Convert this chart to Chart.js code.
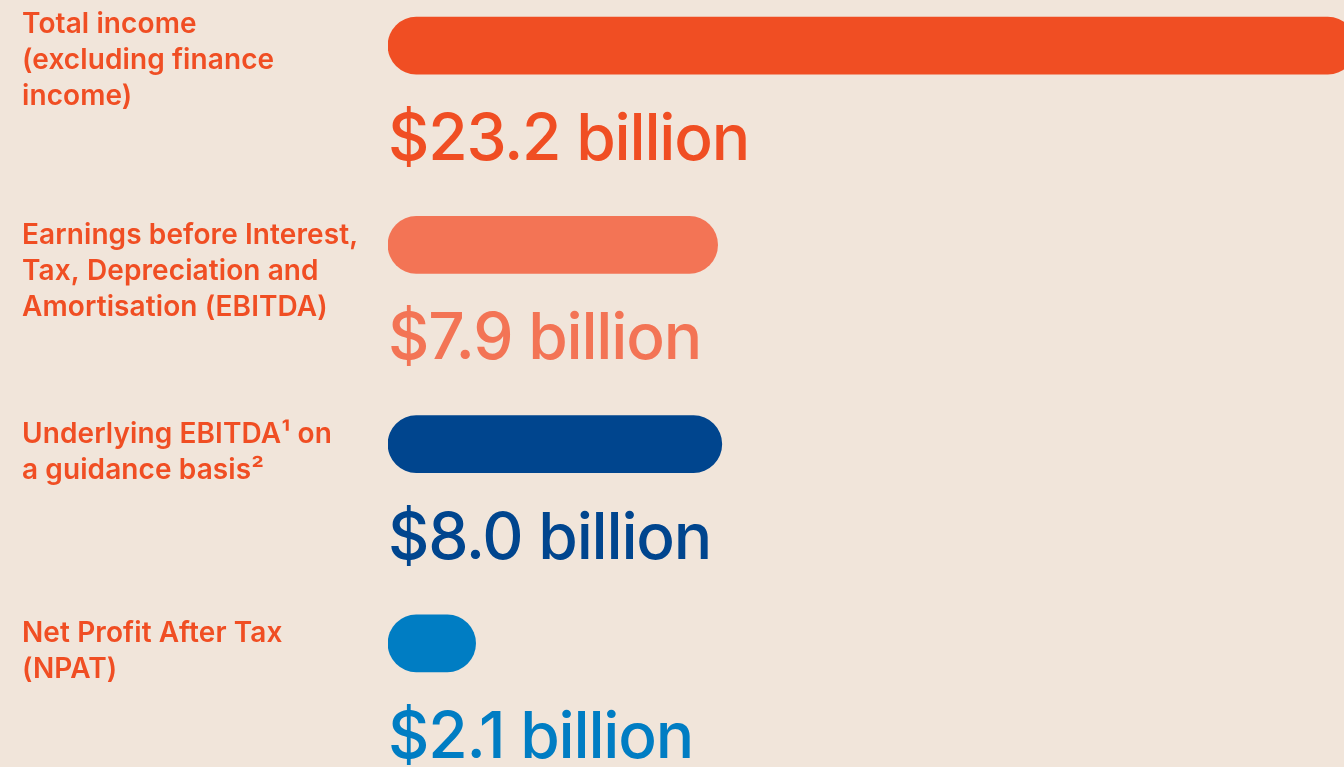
<!DOCTYPE html>
<html>
<head>
<meta charset="utf-8">
<script src="https://cdn.jsdelivr.net/npm/chart.js@4.4.1/dist/chart.umd.min.js"></script>
<style>
  html, body { margin: 0; padding: 0; background: #f1e5da; overflow: hidden; width: 1344px; height: 767px; }
  #wrap { position: absolute; left: 0; top: -54px; width: 1356px; height: 821px; }
</style>
</head>
<body>
<div id="wrap"><canvas id="resultsChart" width="1356" height="821"></canvas></div>
<script>
// categories (left-hand labels, one array of lines each)
const categories = [
    ['Total income', '(excluding finance', 'income)'],
    ['Earnings before Interest,', 'Tax, Depreciation and', 'Amortisation (EBITDA)'],
    ['Underlying EBITDA\u00b9 on', 'a guidance basis\u00b2'],
    ['Net Profit After Tax', '(NPAT)']
];
// values in $ billion
const values = [23.2, 7.9, 8.0, 2.1];
const unit = 'billion';
const barColors = ['#f04e23', '#f37455', '#00458e', '#007dc3'];
const labelColor = '#f04e23';

// draw the left labels and the big value text under each bar
const textPlugin = {
    id: 'textPlugin',
    afterDatasetsDraw(chart) {
        const ctx = chart.ctx;
        const bars = chart.getDatasetMeta(0).data;
        const x0 = chart.scales.x.getPixelForValue(0);
        ctx.save();
        bars.forEach((bar, i) => {
            // category label
            ctx.fillStyle = labelColor;
            ctx.font = '600 28px Inter, "Noto Sans", sans-serif';
            ctx.letterSpacing = '0.1px';
            ctx.textAlign = 'left';
            ctx.textBaseline = 'alphabetic';
            const top = i === 0 ? bar.y - 12.5 : bar.y - 1;
            categories[i].forEach((line, k) => {
                ctx.fillText(line, 22, top + k * 36);
            });
            // value
            ctx.fillStyle = barColors[i];
            ctx.font = '500 64px Inter, "Noto Sans", sans-serif';
            ctx.letterSpacing = '-1.2px';
            ctx.fillText('$' + values[i].toFixed(1) + ' ' + unit, x0, bar.y + 114.5);
            ctx.letterSpacing = '0px';
        });
        ctx.restore();
    }
};

new Chart(document.getElementById('resultsChart'), {
    type: 'bar',
    data: {
        labels: categories.map(c => c.join(' ')),
        datasets: [{
            data: values,
            backgroundColor: barColors,
            barThickness: 57,
            borderRadius: 28.5,
            borderSkipped: false
        }]
    },
    options: {
        indexAxis: 'y',
        responsive: false,
        animation: false,
        devicePixelRatio: 1,
        layout: { padding: { left: 388, right: 0, top: 0, bottom: 24 } },
        scales: {
            x: { display: false, min: 0, max: 23.2 },
            y: { display: false }
        },
        plugins: {
            legend: { display: false },
            tooltip: { enabled: false }
        }
    },
    plugins: [textPlugin]
});
</script>
</body>
</html>
